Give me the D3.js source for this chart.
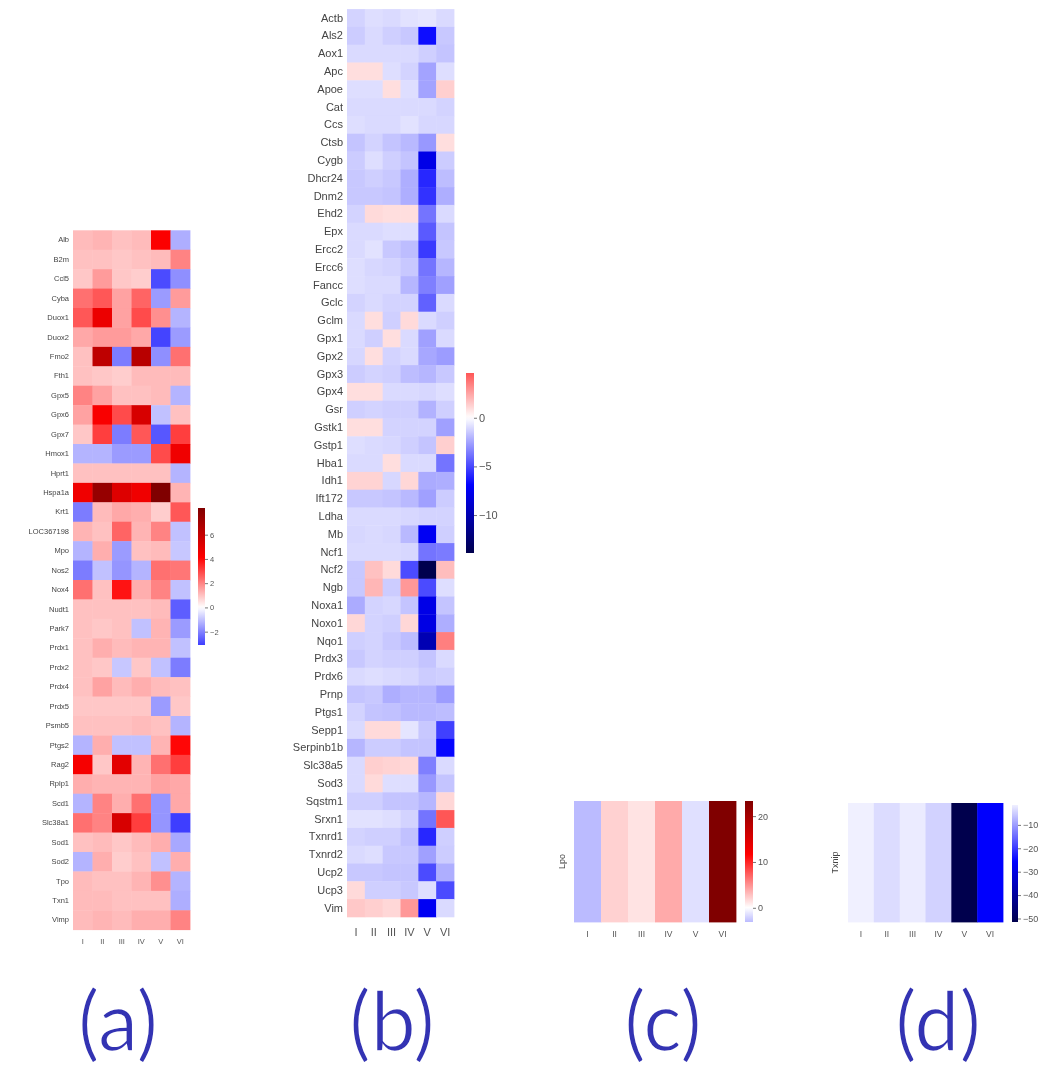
<!DOCTYPE html>
<html>
<head>
<meta charset="utf-8">
<script src="https://cdn.jsdelivr.net/npm/d3@7"></script>
<style>
  html, body { margin: 0; padding: 0; background: #fff; }
  svg { display: block; }
</style>
</head>
<body>
<div id="chart"></div>
<script>
// stages on the x axis of every panel
const stages = ["I", "II", "III", "IV", "V", "VI"]

// panel (a)
const genesA = ["Alb", "B2m", "Ccl5", "Cyba", "Duox1", "Duox2", "Fmo2", "Fth1", "Gpx5", "Gpx6",
    "Gpx7", "Hmox1", "Hprt1", "Hspa1a", "Krt1", "LOC367198", "Mpo", "Nos2", "Nox4", "Nudt1",
    "Park7", "Prdx1", "Prdx2", "Prdx4", "Prdx5", "Psmb5", "Ptgs2", "Rag2", "Rplp1", "Scd1",
    "Slc38a1", "Sod1", "Sod2", "Tpo", "Txn1", "Vimp"]
const valuesA = [
    [1.1, 1.2, 1.0, 1.1, 4.2, -1.3],
    [1.0, 1.0, 0.9, 1.0, 1.1, 2.0],
    [0.9, 1.6, 0.9, 0.8, -2.9, -1.8],
    [2.3, 2.7, 1.5, 2.5, -1.6, 1.6],
    [2.7, 4.7, 1.5, 2.9, 1.8, -1.2],
    [1.4, 1.6, 1.6, 1.4, -3.0, -1.6],
    [1.0, 6.2, -2.1, 6.4, -1.8, 2.3],
    [1.0, 0.9, 0.8, 1.1, 1.1, 1.1],
    [2.0, 1.5, 1.0, 1.0, 1.1, -1.2],
    [1.5, 4.3, 2.9, 5.4, -1.0, 1.0],
    [0.9, 3.1, -2.1, 2.7, -2.7, 3.1],
    [-1.2, -1.2, -1.6, -1.6, 2.9, 4.6],
    [1.0, 1.0, 1.0, 1.0, 1.0, -1.2],
    [4.6, 7.5, 5.2, 4.6, 8.2, 1.2],
    [-2.1, 1.1, 1.4, 1.3, 0.8, 2.7],
    [1.2, 1.0, 2.5, 1.2, 2.0, -1.0],
    [-1.2, 1.3, -1.6, 1.0, 1.1, -0.9],
    [-2.1, -1.0, -1.7, -1.2, 2.3, 2.2],
    [2.3, 1.0, 3.8, 1.3, 2.0, -1.0],
    [1.0, 1.0, 1.0, 1.0, 1.1, -2.6],
    [1.0, 0.9, 1.0, -1.0, 1.2, -1.6],
    [1.0, 1.3, 1.1, 1.2, 1.2, -1.0],
    [1.0, 0.9, -0.9, 0.9, -1.0, -2.1],
    [1.0, 1.5, 1.1, 1.3, 1.1, 1.0],
    [0.9, 0.9, 0.9, 0.9, -1.6, 0.9],
    [1.0, 1.0, 1.0, 1.1, 1.0, -1.2],
    [-1.2, 1.3, -1.0, -1.0, 1.2, 4.0],
    [4.4, 0.9, 5.0, 1.2, 2.3, 3.1],
    [1.3, 1.2, 1.2, 1.2, 1.5, 1.4],
    [-1.2, 2.0, 1.3, 2.3, -1.7, 1.4],
    [2.3, 2.0, 5.4, 3.1, -1.7, -3.1],
    [1.0, 1.1, 0.9, 1.1, 1.3, -1.4],
    [-1.2, 1.3, 0.8, 1.0, -1.0, 1.3],
    [1.1, 1.0, 1.0, 1.2, 1.8, -1.2],
    [1.1, 1.1, 1.0, 1.0, 1.0, -1.3],
    [1.1, 1.2, 1.1, 1.3, 1.3, 2.0]
]
const ticksA = [-2, 0, 2, 4, 6]

// panel (b)
const genesB = ["Actb", "Als2", "Aox1", "Apc", "Apoe", "Cat", "Ccs", "Ctsb", "Cygb", "Dhcr24",
    "Dnm2", "Ehd2", "Epx", "Ercc2", "Ercc6", "Fancc", "Gclc", "Gclm", "Gpx1", "Gpx2",
    "Gpx3", "Gpx4", "Gsr", "Gstk1", "Gstp1", "Hba1", "Idh1", "Ift172", "Ldha", "Mb",
    "Ncf1", "Ncf2", "Ngb", "Noxa1", "Noxo1", "Nqo1", "Prdx3", "Prdx6", "Prnp", "Ptgs1",
    "Sepp1", "Serpinb1b", "Slc38a5", "Sod3", "Sqstm1", "Srxn1", "Txnrd1", "Txnrd2", "Ucp2", "Ucp3",
    "Vim"]
const valuesB = [
    [-1.2, -0.9, -1.0, -0.8, -0.7, -1.0],
    [-1.4, -1.0, -1.3, -1.5, -6.6, -1.5],
    [-1.0, -1.0, -1.0, -1.0, -1.3, -1.6],
    [0.9, 0.9, -0.9, -1.2, -2.5, -0.9],
    [-0.9, -0.9, 0.9, -0.9, -2.5, 1.3],
    [-1.0, -1.0, -1.0, -1.0, -1.0, -1.2],
    [-0.9, -1.0, -1.0, -0.8, -1.1, -1.1],
    [-1.6, -1.2, -1.6, -1.9, -2.8, 0.9],
    [-1.4, -0.9, -1.3, -1.6, -7.9, -1.4],
    [-1.5, -1.3, -1.5, -2.2, -5.9, -1.8],
    [-1.5, -1.5, -1.6, -2.2, -5.6, -2.2],
    [-1.2, 1.0, 0.9, 0.9, -3.8, -1.0],
    [-1.0, -1.0, -0.9, -0.9, -4.5, -1.6],
    [-1.0, -0.8, -1.5, -1.8, -5.4, -1.5],
    [-0.9, -1.1, -1.2, -1.5, -3.8, -2.0],
    [-0.9, -1.0, -1.0, -2.0, -3.5, -2.6],
    [-1.2, -1.0, -1.2, -1.2, -4.3, -1.0],
    [-1.0, 0.9, -1.3, 1.0, -1.0, -1.3],
    [-1.0, -1.3, 0.9, -1.0, -2.6, -1.0],
    [-1.1, 0.9, -1.2, -1.0, -2.4, -2.7],
    [-1.4, -1.2, -1.3, -1.8, -2.0, -1.5],
    [0.9, 0.9, -1.0, -1.0, -1.1, -0.9],
    [-1.3, -1.2, -1.3, -1.3, -2.1, -1.3],
    [0.9, 0.9, -1.2, -1.2, -1.2, -2.6],
    [-0.9, -1.0, -1.1, -1.3, -1.6, 1.3],
    [-1.0, -1.0, 0.9, -1.0, -1.0, -3.8],
    [1.2, 1.2, -1.1, 1.1, -2.3, -2.2],
    [-1.5, -1.5, -1.6, -1.9, -2.6, -1.4],
    [-1.0, -1.0, -1.0, -1.1, -1.2, -1.2],
    [-1.1, -1.0, -1.1, -1.9, -7.4, -1.3],
    [-1.0, -1.0, -1.0, -1.1, -3.8, -3.6],
    [-1.5, 1.7, 1.0, -4.9, -13.9, 1.8],
    [-1.5, 2.0, -1.4, 2.8, -4.9, -0.9],
    [-2.3, -1.2, -1.1, -1.6, -7.9, -1.6],
    [1.1, -1.2, -1.3, 1.1, -8.0, -2.2],
    [-1.3, -1.2, -1.5, -1.8, -9.9, 3.5],
    [-1.5, -1.2, -1.3, -1.3, -1.6, -1.0],
    [-1.0, -0.9, -1.0, -1.1, -1.4, -1.3],
    [-1.6, -1.5, -2.2, -2.0, -2.0, -2.7],
    [-1.2, -1.6, -1.7, -1.9, -1.9, -1.8],
    [-1.0, 1.0, 1.0, -0.7, -1.5, -5.2],
    [-2.0, -1.4, -1.4, -1.6, -1.6, -6.8],
    [-1.0, 1.3, 1.2, 1.1, -3.5, -1.0],
    [-1.0, 1.0, -0.9, -0.9, -2.8, -1.6],
    [-1.3, -1.3, -1.6, -1.6, -2.0, 1.1],
    [-0.8, -0.8, -0.9, -1.2, -3.8, 4.6],
    [-1.2, -1.3, -1.3, -1.7, -5.9, -1.3],
    [-1.0, -0.9, -1.5, -1.5, -2.6, -1.4],
    [-1.5, -1.5, -1.6, -1.6, -4.9, -2.2],
    [1.0, -1.3, -1.3, -1.5, -0.9, -4.9],
    [1.5, 1.3, 1.1, 2.8, -7.4, -1.0]
]
const ticksB = [-10, -5, 0]

// panel (c)
const genesC = ["Lpo"]
const valuesC = [[-3.1, 2.1, 1.3, 3.9, -1.4, 23.3]]
const ticksC = [0, 10, 20]

// panel (d)
const genesD = ["Txnip"]
const valuesD = [[-1.5, -3.5, -2.0, -4.5, -51.5, -26]]
const ticksD = [-50, -40, -30, -20, -10]

const panelLabels = ["(a)", "(b)", "(c)", "(d)"]
const captionX = [118, 392, 663, 938]

// matplotlib "seismic", recentred on 0 the way seaborn does it
const seismic = d3.scaleLinear()
    .domain([0, 0.25, 0.5, 0.75, 1])
    .range(["#00004d", "#0000ff", "#ffffff", "#ff0000", "#800000"])

function centredColor(vmin, vmax) {
    const vr = Math.max(vmax, -vmin)
    return v => seismic((v + vr) / (2 * vr))
}

const width = 1063, height = 1074
const svg = d3.select("#chart").append("svg")
    .attr("width", width)
    .attr("height", height)
    .attr("font-family", "DejaVu Sans, sans-serif")
    .style("filter", "blur(0.45px)")
const defs = svg.append("defs")

function drawHeatmap(cfg) {
    const g = svg.append("g")

    const x = d3.scaleBand().domain(stages).range([cfg.x0, cfg.x1])
    const y = d3.scaleBand().domain(cfg.rows).range([cfg.y0, cfg.y1])

    const cells = cfg.rows.flatMap((r, i) => cfg.values[i].map((v, j) => ({ row: r, col: stages[j], v: v })))
    const [vmin, vmax] = d3.extent(cells, d => d.v)
    const color = centredColor(vmin, vmax)

    g.selectAll("rect.cell")
        .data(cells)
        .join("rect")
        .attr("class", "cell")
        .attr("x", d => x(d.col))
        .attr("y", d => y(d.row))
        .attr("width", x.bandwidth() + 0.4)
        .attr("height", y.bandwidth() + 0.4)
        .attr("fill", d => color(d.v))

    // x axis
    const xa = g.append("g")
        .attr("transform", `translate(0,${cfg.y1})`)
        .call(d3.axisBottom(x).tickSize(0).tickPadding(cfg.xPad))
    xa.select(".domain").remove()
    xa.selectAll("text").attr("font-size", cfg.xFont).attr("fill", "#555").attr("font-family", null)

    // y axis
    const ya = g.append("g")
        .attr("transform", `translate(${cfg.x0},0)`)
        .call(d3.axisLeft(y).tickSize(0).tickPadding(cfg.yPad))
    ya.select(".domain").remove()
    ya.selectAll("text").attr("font-size", cfg.yFont).attr("fill", "#444").attr("font-family", null)
    if (cfg.rotateY) {
        ya.selectAll("text")
            .attr("text-anchor", "middle")
            .attr("dy", 0)
            .attr("x", 0)
            .attr("y", 0)
            .attr("transform", d => `translate(${-cfg.yPad},${y(d) + y.bandwidth() / 2}) rotate(-90)`)
        ya.selectAll(".tick").attr("transform", null)
    }

    // colorbar
    const cb = cfg.cb
    const gid = "grad-" + cfg.id
    const grad = defs.append("linearGradient")
        .attr("id", gid)
        .attr("x1", 0).attr("y1", 1).attr("x2", 0).attr("y2", 0)
    grad.selectAll("stop")
        .data(d3.range(0, 1.0001, 0.02))
        .join("stop")
        .attr("offset", s => s)
        .attr("stop-color", s => color(vmin + s * (vmax - vmin)))
    g.append("rect")
        .attr("x", cb.x)
        .attr("y", cb.y0)
        .attr("width", cb.w)
        .attr("height", cb.y1 - cb.y0)
        .attr("fill", `url(#${gid})`)

    const cbScale = d3.scaleLinear().domain([vmin, vmax]).range([cb.y1, cb.y0])
    const ca = g.append("g")
        .attr("transform", `translate(${cb.x + cb.w},0)`)
        .call(d3.axisRight(cbScale).tickValues(cfg.cbTicks).tickSize(3).tickPadding(2).tickFormat(d3.format("d")))
    ca.select(".domain").remove()
    ca.selectAll("line").attr("stroke", "#777")
    ca.selectAll("text").attr("font-size", cfg.cbFont).attr("fill", "#555").attr("font-family", null)
}

drawHeatmap({
    id: "a", rows: genesA, values: valuesA,
    x0: 73, x1: 190, y0: 230.3, y1: 929.7,
    xFont: 7.5, yFont: 7.5, xPad: 9, yPad: 4,
    cb: { x: 198, w: 7, y0: 508, y1: 645 }, cbTicks: ticksA, cbFont: 7.5
})

drawHeatmap({
    id: "b", rows: genesB, values: valuesB,
    x0: 347, x1: 454, y0: 9.1, y1: 916.9,
    xFont: 11, yFont: 11, xPad: 11, yPad: 4,
    cb: { x: 466, w: 8, y0: 373, y1: 553 }, cbTicks: ticksB, cbFont: 11
})

drawHeatmap({
    id: "c", rows: genesC, values: valuesC,
    x0: 574, x1: 736, y0: 801, y1: 922,
    xFont: 8.5, yFont: 9, xPad: 9, yPad: 9, rotateY: true,
    cb: { x: 745, w: 8, y0: 801, y1: 922 }, cbTicks: ticksC, cbFont: 9
})

drawHeatmap({
    id: "d", rows: genesD, values: valuesD,
    x0: 848, x1: 1003, y0: 803, y1: 922,
    xFont: 8.5, yFont: 9, xPad: 9, yPad: 10, rotateY: true,
    cb: { x: 1012, w: 6, y0: 805, y1: 922 }, cbTicks: ticksD, cbFont: 9
})

// panel captions, a thin sans stretched a little
svg.selectAll("text.caption")
    .data(panelLabels)
    .join("text")
    .attr("class", "caption")
    .attr("transform", (d, i) => `translate(${captionX[i]},1051) scale(1.15,1.2)`)
    .attr("text-anchor", "middle")
    .attr("font-family", "Lato, sans-serif")
    .attr("font-size", 70)
    .attr("fill", "#3333b3")
    .attr("stroke", "#fff")
    .attr("stroke-width", 1.4)
    .text(d => d)
</script>
</body>
</html>
